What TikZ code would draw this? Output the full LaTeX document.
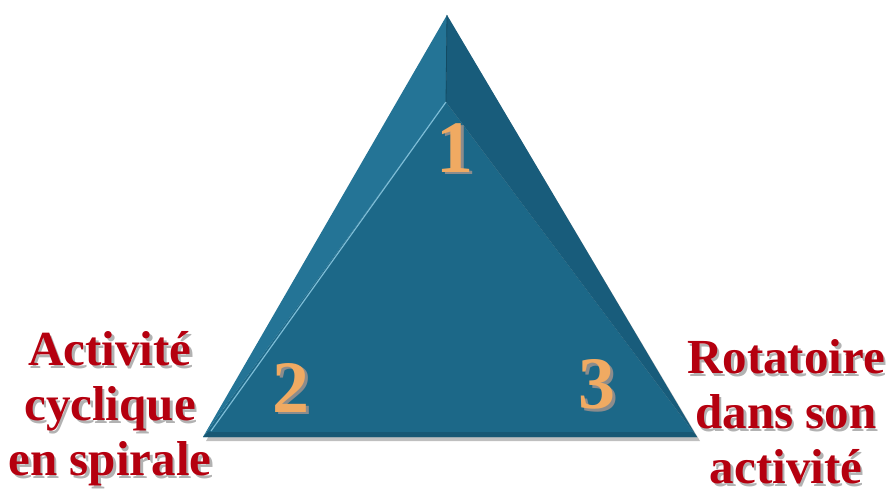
\documentclass[tikz,border=0pt]{standalone}
\usepackage{fontspec}
\setmainfont{Liberation Serif}
\usepackage{xcolor}
\usetikzlibrary{positioning}
\definecolor{facemid}{HTML}{1C6888}
\definecolor{faceleftc}{HTML}{247496}
\definecolor{faceright}{HTML}{185C7B}
\definecolor{ridge}{HTML}{7CBCD6}
\definecolor{numcol}{HTML}{F0AA62}
\definecolor{labelred}{HTML}{B5000F}
% text with a soft drop shadow
\newcommand\shtext[2][black!30]{\makebox[0pt][l]{\hspace{2.5pt}\raisebox{-2.5pt}{\textcolor{#1}{#2}}}#2}

\begin{document}
\begin{tikzpicture}[
x=1pt, y=-1pt,
face/.style={draw=none},
num/.style={font=\fontsize{74}{74}\selectfont\bfseries, text=numcol},
label/.style={font=\fontsize{49}{55}\selectfont\bfseries, text=labelred, align=center}
]
\useasboundingbox (0,0) rectangle (889,498);
% corners of the pyramid
\coordinate (top) at (447,15);
\coordinate (mid) at (446,102);
\coordinate (bl) at (203,437);
\coordinate (br) at (697,437);
% shadow under the pyramid
\fill[black!25] (top) ++(2,4) -- ([shift={(3,4)}]br) -- ([shift={(3,4)}]bl) -- cycle;
% faces
\fill[face, facemid] (mid) -- (bl) -- (br) -- cycle;
\fill[face, faceleftc] (top) -- (mid) -- (bl) -- cycle;
\fill[face, faceright] (top) -- (br) -- (mid) -- cycle;
\fill[face, facemid!85!black] (bl) -- (br) -- ([shift={(-4,-5)}]br) -- ([shift={(5,-5)}]bl) -- cycle;
\draw[ridge, line width=1.2pt] (mid) -- ([shift={(8,-6)}]bl);
\draw[faceright!80!black, line width=0.8pt] (top) -- (mid);
% numbers
\node[num] (one) at (455,149) {\shtext[black!45]{1}};
\node[num] (two) at (291,389) {\shtext[black!45]{2}};
\node[num] (three) at (597,386) {\shtext[black!45]{3}};
% labels
\node[label] (cyc) at (110,410) {\shtext{Activité}\\\shtext{cyclique}\\\shtext{en spirale}};
\node[label] (rot) at (786,413) {\shtext{Rotatoire}\\\shtext{dans son}\\\shtext{activité}};
\end{tikzpicture}
\end{document}
